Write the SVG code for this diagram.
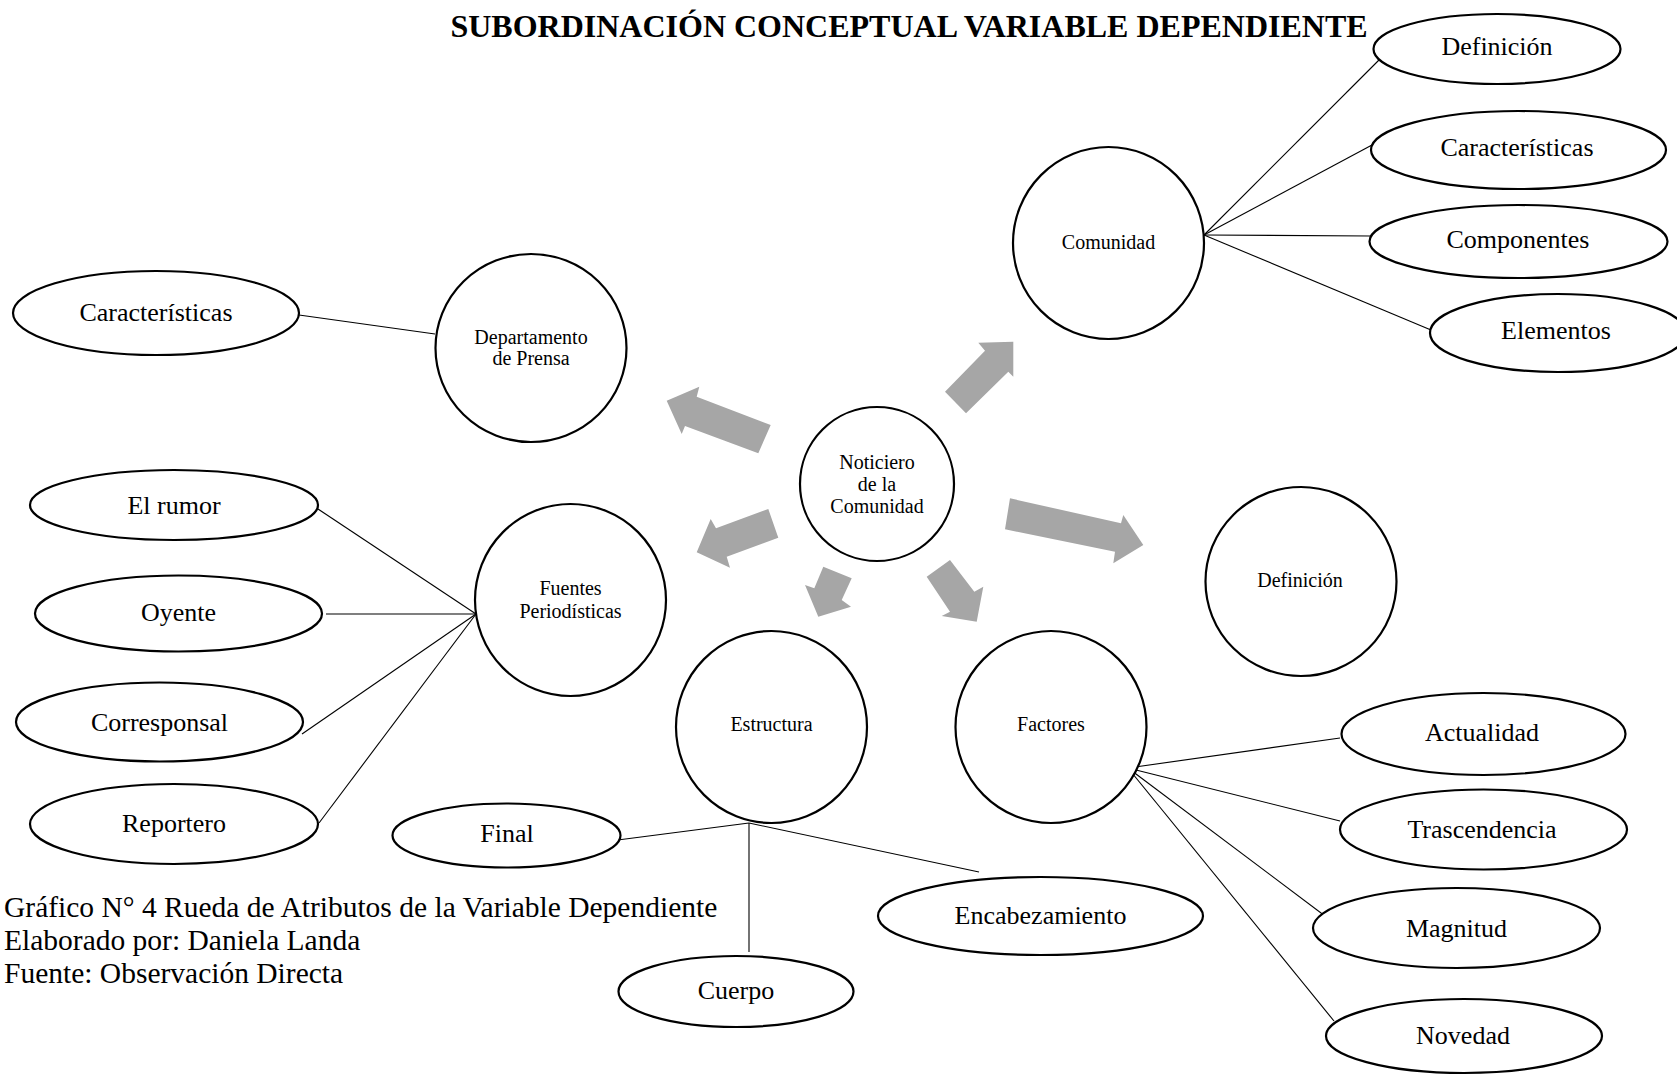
<svg xmlns="http://www.w3.org/2000/svg" width="1677" height="1075" viewBox="0 0 1677 1075">
<style>
  .node { fill: #ffffff; stroke: #000000; stroke-width: 2.2; }
  .link { stroke: #000000; stroke-width: 1.1; fill: none; }
  .arrow { fill: #a6a6a6; stroke: none; }
  .t-small { font-family: "Liberation Serif", "Times New Roman", serif; font-size: 20px; fill: #000; text-anchor: middle; }
  .t-big { font-family: "Liberation Serif", "Times New Roman", serif; font-size: 26px; fill: #000; text-anchor: middle; }
  .t-title { font-family: "Liberation Serif", "Times New Roman", serif; font-size: 32px; font-weight: bold; fill: #000; text-anchor: middle; }
  .t-foot { font-family: "Liberation Serif", "Times New Roman", serif; font-size: 29.5px; fill: #000; }
</style>
<rect width="1677" height="1075" fill="#ffffff"/>

<text class="t-title" x="909" y="37">SUBORDINACIÓN CONCEPTUAL VARIABLE DEPENDIENTE</text>

<g id="connectors">
  <line class="link" x1="299" y1="315" x2="435" y2="334"/>
  <line class="link" x1="1204" y1="235" x2="1383" y2="56"/>
  <line class="link" x1="1204" y1="235" x2="1372" y2="145"/>
  <line class="link" x1="1204" y1="235" x2="1371" y2="236"/>
  <line class="link" x1="1204" y1="235" x2="1431" y2="330"/>
  <line class="link" x1="476" y1="614" x2="318" y2="509"/>
  <line class="link" x1="476" y1="614" x2="326" y2="614"/>
  <line class="link" x1="476" y1="614" x2="302" y2="734"/>
  <line class="link" x1="476" y1="614" x2="319" y2="823"/>
  <line class="link" x1="749" y1="823" x2="610" y2="841"/>
  <line class="link" x1="749" y1="823" x2="749" y2="952"/>
  <line class="link" x1="749" y1="823" x2="979" y2="872"/>
  <line class="link" x1="1128" y1="768" x2="1340" y2="738"/>
  <line class="link" x1="1128" y1="768" x2="1340" y2="821"/>
  <line class="link" x1="1128" y1="768" x2="1333" y2="922"/>
  <line class="link" x1="1128" y1="768" x2="1334" y2="1021"/>
  <polygon class="arrow" points="666.7,400.7 699.3,386.7 696.7,396.7 770.7,425 758.3,453.3 685,426 681.7,434"/>
  <polygon class="arrow" points="1013.3,341.7 978.3,342.7 985,350.7 945,391.7 966,413.3 1008.3,371.7 1013.3,376.7"/>
  <polygon class="arrow" points="696.7,552.3 710.7,519 716,528.3 768.3,509 778.3,537.7 726.7,556.7 730,567.7"/>
  <polygon class="arrow" points="818.3,616.7 805,585 814.3,588.3 823.3,566.7 851.7,578.3 841.7,600 851,606.7"/>
  <polygon class="arrow" points="976.7,621.7 983.3,586.7 974.3,591.7 950,560 926.7,576.7 950,611.7 941.7,616"/>
  <polygon class="arrow" points="1143.3,545 1123.3,515 1121,523.3 1010,498.3 1005,529.3 1115,551.7 1113.3,563.3"/>
</g>

<g id="noticiero">
  <ellipse class="node" cx="877" cy="484" rx="77" ry="77"/>
  <text class="t-small" x="877" y="469">Noticiero</text>
  <text class="t-small" x="877" y="491">de la</text>
  <text class="t-small" x="877" y="513">Comunidad</text>
</g>

<g id="departamento">
  <ellipse class="node" cx="531" cy="348" rx="95.5" ry="94"/>
  <text class="t-small" x="531" y="344">Departamento</text>
  <text class="t-small" x="531" y="365">de Prensa</text>
</g>
<g id="dep-caracteristicas">
  <ellipse class="node" cx="156" cy="313" rx="143" ry="42"/>
  <text class="t-big" x="156" y="321">Características</text>
</g>

<g id="comunidad">
  <ellipse class="node" cx="1108.5" cy="243" rx="95.5" ry="96"/>
  <text class="t-small" x="1108.5" y="249">Comunidad</text>
</g>
<g id="com-definicion">
  <ellipse class="node" cx="1497" cy="49" rx="123.5" ry="35"/>
  <text class="t-big" x="1497" y="55">Definición</text>
</g>
<g id="com-caracteristicas">
  <ellipse class="node" cx="1518.5" cy="150" rx="147.5" ry="39"/>
  <text class="t-big" x="1517" y="156">Características</text>
</g>
<g id="com-componentes">
  <ellipse class="node" cx="1518.5" cy="241.5" rx="149" ry="36.5"/>
  <text class="t-big" x="1518" y="248">Componentes</text>
</g>
<g id="com-elementos">
  <ellipse class="node" cx="1558" cy="333" rx="128" ry="39"/>
  <text class="t-big" x="1556" y="339">Elementos</text>
</g>

<g id="fuentes">
  <ellipse class="node" cx="570.5" cy="600" rx="95.5" ry="96"/>
  <text class="t-small" x="570.5" y="595">Fuentes</text>
  <text class="t-small" x="570.5" y="618">Periodísticas</text>
</g>
<g id="fue-rumor">
  <ellipse class="node" cx="174" cy="505" rx="144" ry="35"/>
  <text class="t-big" x="174" y="514">El rumor</text>
</g>
<g id="fue-oyente">
  <ellipse class="node" cx="178.5" cy="613.5" rx="143.5" ry="38"/>
  <text class="t-big" x="178.5" y="621">Oyente</text>
</g>
<g id="fue-corresponsal">
  <ellipse class="node" cx="159.5" cy="722" rx="143.5" ry="39.5"/>
  <text class="t-big" x="159.5" y="731">Corresponsal</text>
</g>
<g id="fue-reportero">
  <ellipse class="node" cx="174" cy="824" rx="144" ry="40"/>
  <text class="t-big" x="174" y="832">Reportero</text>
</g>

<g id="estructura">
  <ellipse class="node" cx="771.5" cy="727" rx="95.5" ry="96"/>
  <text class="t-small" x="771.5" y="731">Estructura</text>
</g>
<g id="est-final">
  <ellipse class="node" cx="506.5" cy="835.5" rx="114" ry="32"/>
  <text class="t-big" x="507" y="842">Final</text>
</g>
<g id="est-cuerpo">
  <ellipse class="node" cx="736" cy="991.5" rx="117.5" ry="35.5"/>
  <text class="t-big" x="736" y="999">Cuerpo</text>
</g>
<g id="est-encabezamiento">
  <ellipse class="node" cx="1040.5" cy="916" rx="162.5" ry="39"/>
  <text class="t-big" x="1040.5" y="924">Encabezamiento</text>
</g>

<g id="factores">
  <ellipse class="node" cx="1051" cy="727" rx="95.5" ry="96"/>
  <text class="t-small" x="1051" y="731">Factores</text>
</g>
<g id="fac-actualidad">
  <ellipse class="node" cx="1483.5" cy="734" rx="142" ry="41"/>
  <text class="t-big" x="1482" y="741">Actualidad</text>
</g>
<g id="fac-trascendencia">
  <ellipse class="node" cx="1483.5" cy="829.5" rx="143.5" ry="40"/>
  <text class="t-big" x="1482" y="838">Trascendencia</text>
</g>
<g id="fac-magnitud">
  <ellipse class="node" cx="1456.5" cy="928" rx="143.5" ry="40"/>
  <text class="t-big" x="1456.5" y="937">Magnitud</text>
</g>
<g id="fac-novedad">
  <ellipse class="node" cx="1464" cy="1036" rx="138" ry="37"/>
  <text class="t-big" x="1463" y="1044">Novedad</text>
</g>

<g id="definicion">
  <ellipse class="node" cx="1301" cy="581.5" rx="95.5" ry="94.5"/>
  <text class="t-small" x="1300" y="587">Definición</text>
</g>

<g id="footer">
  <text class="t-foot" x="4" y="917">Gráfico N° 4 Rueda de Atributos de la Variable Dependiente</text>
  <text class="t-foot" x="4" y="950">Elaborado por: Daniela Landa</text>
  <text class="t-foot" x="4" y="983">Fuente: Observación Directa</text>
</g>
</svg>
